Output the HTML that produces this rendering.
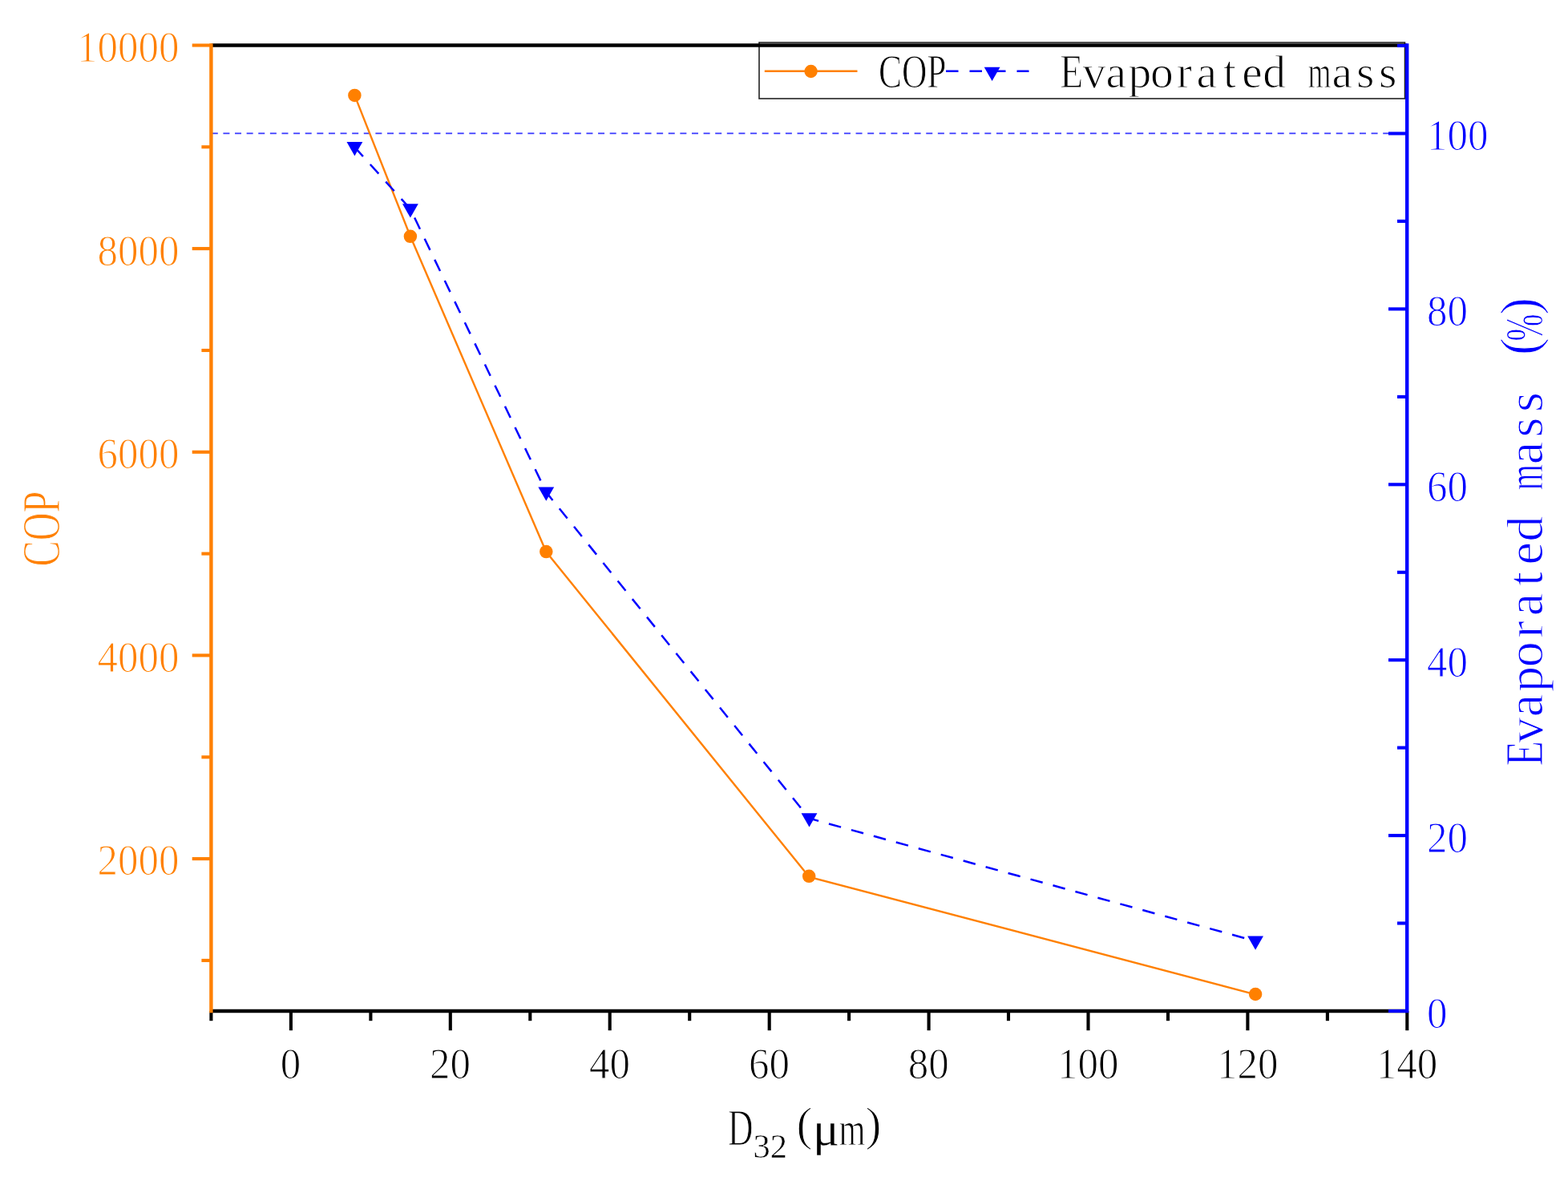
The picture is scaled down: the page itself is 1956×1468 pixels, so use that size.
<!DOCTYPE html>
<html lang="en"><head><meta charset="utf-8"><title>COP and Evaporated mass (%) versus D32 (μm)</title>
<style>html,body{margin:0;padding:0;background:#fff}svg{display:block}text{font-family:"Liberation Serif", serif;white-space:pre;stroke:#fff;stroke-width:1.10}</style></head><body>
<svg width="1956" height="1468" viewBox="0 0 1956 1468">
<rect width="1956" height="1468" fill="#fff"/>
<!-- 100 % reference line -->
<line x1="263.8" y1="166.3" x2="1753" y2="166.3" stroke="#0000ff" stroke-width="1.7" stroke-dasharray="8 6.614" stroke-opacity="0.78"/>
<!-- data series -->
<polyline fill="none" stroke="#ff8000" stroke-width="2.4" stroke-linejoin="round" points="442.4,118.9 511.9,294.8 681.3,688.2 1009.2,1093.6 1566.1,1240.3"/>
<polyline fill="none" stroke="#0000ff" stroke-width="2.5" stroke-dasharray="15.7 13.29" points="442.4,183.5 511.9,260.6 681.3,613.8 1009.5,1020.7 1566.1,1173.8"/>
<polygon points="432.5,177.1 452.3,177.1 442.4,194.4" fill="#0000ff"/>
<polygon points="502.0,254.2 521.8,254.2 511.9,271.5" fill="#0000ff"/>
<polygon points="671.4,607.4 691.2,607.4 681.3,624.7" fill="#0000ff"/>
<polygon points="999.6,1014.3 1019.4,1014.3 1009.5,1031.6" fill="#0000ff"/>
<polygon points="1556.2,1167.4 1576.0,1167.4 1566.1,1184.7" fill="#0000ff"/>
<circle cx="442.4" cy="118.9" r="8.25" fill="#ff8000"/>
<circle cx="511.9" cy="294.8" r="8.25" fill="#ff8000"/>
<circle cx="681.3" cy="688.1" r="8.25" fill="#ff8000"/>
<circle cx="1009.2" cy="1092.8" r="8.25" fill="#ff8000"/>
<circle cx="1566.1" cy="1240.0" r="8.25" fill="#ff8000"/>
<!-- legend -->
<rect x="947.0" y="53.0" width="805.5" height="70.0" fill="#fff"/>
<line x1="953.8" y1="88.7" x2="1069.5" y2="88.7" stroke="#ff8000" stroke-width="2.4"/>
<circle cx="1011.6" cy="89.0" r="8.2" fill="#ff8000"/>
<line x1="1180" y1="88.7" x2="1283.5" y2="88.7" stroke="#0000ff" stroke-width="2.5" stroke-dasharray="15.5 14"/>
<polygon points="1227.7,83.8 1247.5,83.8 1237.6,101.1" fill="#0000ff"/>
<text font-size="60" fill="#000"><tspan x="1096.0" y="108.9" textLength="84.5" lengthAdjust="spacingAndGlyphs">COP</tspan></text>
<text font-size="60" fill="#000"><tspan x="1322.3" y="108.8" textLength="29.0" lengthAdjust="spacingAndGlyphs">E</tspan><tspan x="1350.4 1379.6 1407.5 1435.0 1467.7 1492.4 1525.9 1549.3 1575.3" y="108.8" font-size="57.5">vaporated</tspan> <tspan x="1631.5" y="108.8" font-size="57.5" textLength="29.0" lengthAdjust="spacingAndGlyphs">m</tspan><tspan x="1661.6 1691.9 1720.1" y="108.8" font-size="57.5">ass</tspan></text>
<!-- tick labels -->
<text x="349.8" y="1345.2" font-size="54.4" textLength="25.5" lengthAdjust="spacingAndGlyphs" fill="#000000">0</text>
<text x="536.0" y="1345.2" font-size="54.4" textLength="51.0" lengthAdjust="spacingAndGlyphs" fill="#000000">20</text>
<text x="734.9" y="1345.2" font-size="54.4" textLength="51.0" lengthAdjust="spacingAndGlyphs" fill="#000000">40</text>
<text x="933.9" y="1345.2" font-size="54.4" textLength="51.0" lengthAdjust="spacingAndGlyphs" fill="#000000">60</text>
<text x="1132.8" y="1345.2" font-size="54.4" textLength="51.0" lengthAdjust="spacingAndGlyphs" fill="#000000">80</text>
<text x="1319.0" y="1345.2" font-size="54.4" textLength="76.5" lengthAdjust="spacingAndGlyphs" fill="#000000">100</text>
<text x="1517.9" y="1345.2" font-size="54.4" textLength="76.5" lengthAdjust="spacingAndGlyphs" fill="#000000">120</text>
<text x="1716.8" y="1345.2" font-size="54.4" textLength="76.5" lengthAdjust="spacingAndGlyphs" fill="#000000">140</text>
<text x="96.1" y="77.2" font-size="54.4" textLength="127.5" lengthAdjust="spacingAndGlyphs" fill="#ff8000">10000</text>
<text x="121.6" y="330.6" font-size="54.4" textLength="102.0" lengthAdjust="spacingAndGlyphs" fill="#ff8000">8000</text>
<text x="121.6" y="584.1" font-size="54.4" textLength="102.0" lengthAdjust="spacingAndGlyphs" fill="#ff8000">6000</text>
<text x="121.6" y="837.5" font-size="54.4" textLength="102.0" lengthAdjust="spacingAndGlyphs" fill="#ff8000">4000</text>
<text x="121.6" y="1091.0" font-size="54.4" textLength="102.0" lengthAdjust="spacingAndGlyphs" fill="#ff8000">2000</text>
<text x="1780.0" y="187.1" font-size="54.4" textLength="76.5" lengthAdjust="spacingAndGlyphs" fill="#0000ff">100</text>
<text x="1780.0" y="406.0" font-size="54.4" textLength="51.0" lengthAdjust="spacingAndGlyphs" fill="#0000ff">80</text>
<text x="1780.0" y="624.9" font-size="54.4" textLength="51.0" lengthAdjust="spacingAndGlyphs" fill="#0000ff">60</text>
<text x="1780.0" y="843.8" font-size="54.4" textLength="51.0" lengthAdjust="spacingAndGlyphs" fill="#0000ff">40</text>
<text x="1780.0" y="1062.7" font-size="54.4" textLength="51.0" lengthAdjust="spacingAndGlyphs" fill="#0000ff">20</text>
<text x="1780.0" y="1281.6" font-size="54.4" textLength="25.5" lengthAdjust="spacingAndGlyphs" fill="#0000ff">0</text>
<!-- axis titles -->
<text transform="translate(73.9,706.5) rotate(-90)" font-size="67" fill="#ff8000"><tspan x="0.0" y="0.0" textLength="94.0" lengthAdjust="spacingAndGlyphs">COP</tspan></text>
<text transform="translate(1923.6,956.0) rotate(-90)" font-size="67" fill="#0000ff"><tspan x="0.5" y="0.0" textLength="31.5" lengthAdjust="spacingAndGlyphs">E</tspan><tspan x="29.2 61.8 92.9 123.7 160.2 187.8 225.2 251.4 280.4" y="0.0" font-size="64.0">vaporated</tspan> <tspan x="344.5" y="0.0" font-size="64.0" textLength="32.5" lengthAdjust="spacingAndGlyphs">m</tspan><tspan x="376.8 410.6 442.1" y="0.0" font-size="64.0">ass</tspan> <tspan x="513.0" y="-6.0" textLength="22.0" lengthAdjust="spacingAndGlyphs">(</tspan><tspan x="530.5" y="0.0" textLength="34.0" lengthAdjust="spacingAndGlyphs">%</tspan><tspan x="563.0" y="-6.0" textLength="22.0" lengthAdjust="spacingAndGlyphs">)</tspan></text>
<text font-size="63" fill="#000"><tspan x="908" y="1428" textLength="31.5" lengthAdjust="spacingAndGlyphs">D</tspan><tspan x="939.5" y="1444" font-size="41.5" stroke-width="0.5" textLength="42.5" lengthAdjust="spacingAndGlyphs">32</tspan><tspan x="993.5" y="1421.5" font-size="59" textLength="20" lengthAdjust="spacingAndGlyphs">(</tspan><tspan x="1014.0" y="1428" font-size="60" stroke-width="0.3" textLength="33" lengthAdjust="spacingAndGlyphs">μ</tspan><tspan x="1046.5" y="1428" font-size="60" textLength="33" lengthAdjust="spacingAndGlyphs">m</tspan><tspan x="1079.5" y="1421.5" font-size="59" textLength="20" lengthAdjust="spacingAndGlyphs">)</tspan></text>
<!-- legend frame -->
<rect x="947.0" y="53.0" width="805.5" height="70.0" fill="none" stroke="#222" stroke-width="1.6"/>
<!-- axes -->
<g stroke-width="4.4" fill="none">
<g stroke="#000000">
<line x1="263.4" y1="56.5" x2="1755.2" y2="56.5"/>
<line x1="263.4" y1="1261.0" x2="1755.2" y2="1261.0"/>
<line stroke-width="4.1" x1="263.4" y1="1261.0" x2="263.4" y2="1273.2"/>
<line stroke-width="4.1" x1="362.9" y1="1261.0" x2="362.9" y2="1285.2"/>
<line stroke-width="4.1" x1="462.4" y1="1261.0" x2="462.4" y2="1273.2"/>
<line stroke-width="4.1" x1="561.8" y1="1261.0" x2="561.8" y2="1285.2"/>
<line stroke-width="4.1" x1="661.3" y1="1261.0" x2="661.3" y2="1273.2"/>
<line stroke-width="4.1" x1="760.7" y1="1261.0" x2="760.7" y2="1285.2"/>
<line stroke-width="4.1" x1="860.2" y1="1261.0" x2="860.2" y2="1273.2"/>
<line stroke-width="4.1" x1="959.7" y1="1261.0" x2="959.7" y2="1285.2"/>
<line stroke-width="4.1" x1="1059.1" y1="1261.0" x2="1059.1" y2="1273.2"/>
<line stroke-width="4.1" x1="1158.6" y1="1261.0" x2="1158.6" y2="1285.2"/>
<line stroke-width="4.1" x1="1258.0" y1="1261.0" x2="1258.0" y2="1273.2"/>
<line stroke-width="4.1" x1="1357.5" y1="1261.0" x2="1357.5" y2="1285.2"/>
<line stroke-width="4.1" x1="1457.0" y1="1261.0" x2="1457.0" y2="1273.2"/>
<line stroke-width="4.1" x1="1556.4" y1="1261.0" x2="1556.4" y2="1285.2"/>
<line stroke-width="4.1" x1="1655.9" y1="1261.0" x2="1655.9" y2="1273.2"/>
<line stroke-width="4.1" x1="1755.3" y1="1261.0" x2="1755.3" y2="1285.2"/>
</g><g stroke="#ff8000">
<line x1="263.4" y1="54.3" x2="263.4" y2="1263.2"/>
<line stroke-width="4.1" x1="251.4" y1="1197.9" x2="263.4" y2="1197.9"/>
<line stroke-width="4.1" x1="239.7" y1="1071.1" x2="263.4" y2="1071.1"/>
<line stroke-width="4.1" x1="251.4" y1="944.3" x2="263.4" y2="944.3"/>
<line stroke-width="4.1" x1="239.7" y1="817.4" x2="263.4" y2="817.4"/>
<line stroke-width="4.1" x1="251.4" y1="690.6" x2="263.4" y2="690.6"/>
<line stroke-width="4.1" x1="239.7" y1="563.8" x2="263.4" y2="563.8"/>
<line stroke-width="4.1" x1="251.4" y1="437.0" x2="263.4" y2="437.0"/>
<line stroke-width="4.1" x1="239.7" y1="310.1" x2="263.4" y2="310.1"/>
<line stroke-width="4.1" x1="251.4" y1="183.3" x2="263.4" y2="183.3"/>
<line stroke-width="4.1" x1="239.7" y1="56.5" x2="263.4" y2="56.5"/>
</g><g stroke="#0000ff">
<line x1="1755.2" y1="54.3" x2="1755.2" y2="1263.2"/>
<line stroke-width="4.1" x1="1732.0" y1="1261.0" x2="1755.2" y2="1261.0"/>
<line stroke-width="4.1" x1="1743.0" y1="1151.5" x2="1755.2" y2="1151.5"/>
<line stroke-width="4.1" x1="1732.0" y1="1042.1" x2="1755.2" y2="1042.1"/>
<line stroke-width="4.1" x1="1743.0" y1="932.6" x2="1755.2" y2="932.6"/>
<line stroke-width="4.1" x1="1732.0" y1="823.2" x2="1755.2" y2="823.2"/>
<line stroke-width="4.1" x1="1743.0" y1="713.8" x2="1755.2" y2="713.8"/>
<line stroke-width="4.1" x1="1732.0" y1="604.3" x2="1755.2" y2="604.3"/>
<line stroke-width="4.1" x1="1743.0" y1="494.9" x2="1755.2" y2="494.9"/>
<line stroke-width="4.1" x1="1732.0" y1="385.4" x2="1755.2" y2="385.4"/>
<line stroke-width="4.1" x1="1743.0" y1="275.9" x2="1755.2" y2="275.9"/>
<line stroke-width="4.1" x1="1732.0" y1="166.5" x2="1755.2" y2="166.5"/>
<line stroke-width="4.1" x1="1743.0" y1="57.0" x2="1755.2" y2="57.0"/>
</g></g>
</svg></body></html>
